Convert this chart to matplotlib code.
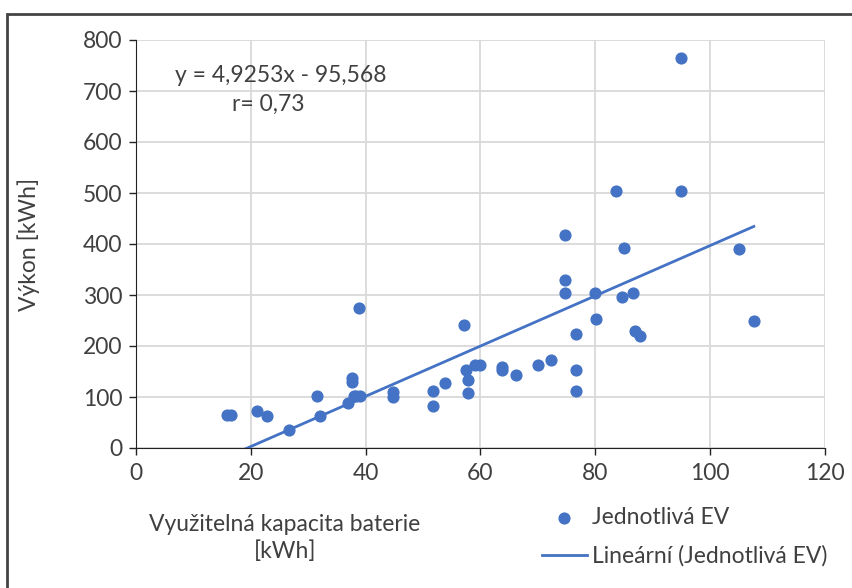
import numpy as np
import matplotlib.pyplot as plt
from matplotlib.patches import Rectangle

# battery capacity [kWh] and power [kWh] of the individual EVs
capacity = [15.8, 16.6, 21.0, 22.8, 26.6, 31.6, 32.0, 37.0, 37.9, 38.4, 39.0, 37.6,
            37.6, 38.8, 44.7, 44.7, 51.8, 51.8, 53.8, 57.2, 57.8, 57.8, 57.5, 59.0,
            59.9, 63.7, 63.7, 66.2, 70.0, 72.3, 76.7, 76.7, 76.7, 80.2, 83.6, 94.9,
            74.7, 85.0, 74.7, 74.7, 79.9, 84.6, 86.5, 86.9, 87.8, 105.0, 107.6, 94.9]
power = [64, 64, 73, 63, 35, 102, 63, 89, 101, 102, 102, 137,
         129, 274, 110, 100, 82, 112, 128, 242, 108, 133, 153, 163,
         163, 159, 152, 143, 163, 172, 223, 153, 112, 252, 504, 504,
         418, 392, 329, 303, 303, 297, 303, 230, 220, 390, 249, 765]

# trendline as printed on the chart
slope = 4.9253
intercept = -95.568
eq_text = 'y = 4,9253x - 95,568'
r_text = 'r= 0,73'

x_ticks = [0, 20, 40, 60, 80, 100, 120]
y_ticks = [0, 100, 200, 300, 400, 500, 600, 700, 800]

blue = '#4472C4'
txt = '#404040'
fs = 16.5
plt.rcParams['font.family'] = ['Lato', 'DejaVu Sans']

fig = plt.figure(figsize=(8.53, 5.88), dpi=100)
ax = fig.add_axes([136 / 853, 1 - 448 / 588, 689 / 853, 408 / 588])

# outer frame of the screenshot
fig.patches.append(Rectangle((7 / 853, -0.1), 1.2, 1 - 14 / 588 + 0.1, transform=fig.transFigure,
                             fill=False, ec='#444444', lw=2, clip_on=False))

ax.scatter(capacity, power, s=60, color=blue, zorder=3, label='Jednotlivá EV')
xl = np.array([min(capacity), max(capacity)])
ax.plot(xl, slope * xl + intercept, color=blue, lw=2, zorder=2, label='Lineární (Jednotlivá EV)')

ax.set_xlim(0, 120)
ax.set_ylim(0, 800)
ax.set_xticks(x_ticks)
ax.set_yticks(y_ticks)
ax.grid(True, color='#D9D9D9', lw=1.3)
ax.set_axisbelow(True)
for s in ['top', 'right']:
    ax.spines[s].set_visible(False)
ax.spines['left'].set_color('#222222')
ax.spines['bottom'].set_color('#222222')
ax.tick_params(colors='#222222', labelcolor=txt, labelsize=fs, length=5, width=1)
ax.tick_params(axis='x', pad=6)
ax.tick_params(axis='y', pad=5)

ax.set_ylabel('Výkon [kWh]', fontsize=fs, color=txt)
ax.yaxis.set_label_coords(-0.14, 0.5)
fig.text(285 / 853, 1 - 538 / 588, 'Využitelná kapacita baterie\n[kWh]', ha='center', va='center',
         fontsize=fs, color=txt, linespacing=1.3)

ax.text(281 / 853, 1 - 75 / 588, eq_text, transform=fig.transFigure, ha='center', va='center',
        fontsize=fs, color=txt)
ax.text(268 / 853, 1 - 104 / 588, r_text, transform=fig.transFigure, ha='center', va='center',
        fontsize=fs, color=txt)

ax.legend(loc='upper left', bbox_to_anchor=(542 / 853, 1 - 507 / 588), bbox_transform=fig.transFigure,
          frameon=False, fontsize=fs, labelcolor=txt, handlelength=1.95, handletextpad=0.25,
          labelspacing=0.75, borderaxespad=0, borderpad=0)

fig.savefig('out.png', dpi=100)
